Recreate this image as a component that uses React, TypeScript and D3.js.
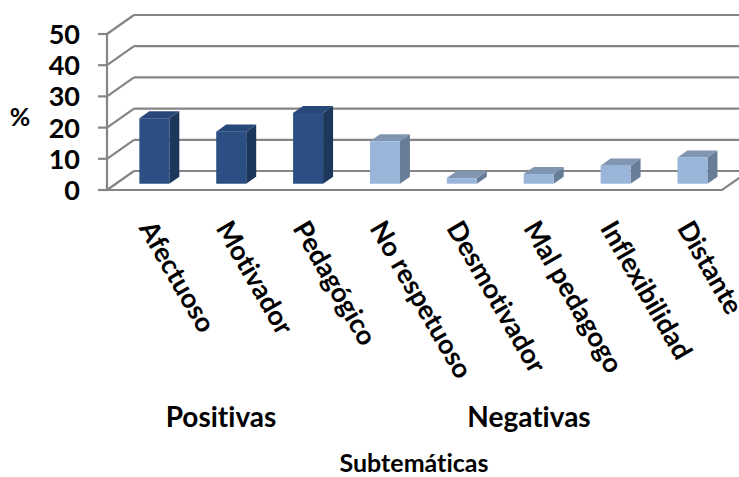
import React from "react";
import * as d3 from "d3";

const categories = [
  "Afectuoso",
  "Motivador",
  "Pedagógico",
  "No respetuoso",
  "Desmotivador",
  "Mal pedagogo",
  "Inflexibilidad",
  "Distante",
];
const values = [21, 16.7, 22.7, 13.6, 1.8, 3.1, 5.8, 8.4];
const groups = ["Positivas", "Positivas", "Positivas", "Negativas", "Negativas", "Negativas", "Negativas", "Negativas"];
const yTicks = [0, 10, 20, 30, 40, 50];
const groupLabels = ["Positivas", "Negativas"];

const W = 739;
const H = 477;
const FONT = "Lato, 'Open Sans', 'Liberation Sans', sans-serif";

const colors: Record<string, { front: string; side: string; top: string }> = {
  Positivas: { front: "#2B4F83", side: "#1D375C", top: "#274878" },
  Negativas: { front: "#9AB5DA", side: "#687D97", top: "#8095B1" },
};

export default function App() {
  const left = 107;
  const right = 722;
  const depth = { x: 27, y: -19 };
  const f0 = 0.33;
  const f1 = 0.7;

  const y = d3.scaleLinear().domain([0, 50]).range([190, 34]);
  const x = d3
    .scaleBand<string>()
    .domain(categories)
    .range([left, right])
    .paddingInner(0.61)
    .paddingOuter(0.305);
  const bw = x.bandwidth();
  const bd = { x: (f1 - f0) * depth.x, y: (f1 - f0) * depth.y };
  const grid = "#858585";

  const groupX = d3
    .scaleOrdinal<string, number>()
    .domain(groupLabels)
    .range([221, 529]);

  const txt = { fontVariantLigatures: "none", fontFeatureSettings: "'liga' 0, 'dlig' 0" } as React.CSSProperties;

  return (
    <svg
      width={W}
      height={H}
      style={{ position: "absolute", left: 0, top: 0, background: "#fff" }}
      fontFamily={FONT}
    >
      <rect width={W} height={H} fill="#fff" />
      {yTicks.map((t) => (
        <g key={t} stroke={grid} strokeWidth={2.2} fill="none">
          <line x1={left + depth.x} x2={W + 20} y1={y(t) + depth.y} y2={y(t) + depth.y} />
          <line x1={left} y1={y(t)} x2={left + depth.x} y2={y(t) + depth.y} />
          <line x1={left - 9} x2={left} y1={y(t)} y2={y(t)} />
        </g>
      ))}
      <line x1={left} x2={left} y1={y(50)} y2={y(0)} stroke={grid} strokeWidth={2.2} />
      <polyline
        points={`${left},${y(0)} ${right},${y(0)} ${right + depth.x},${y(0) + depth.y}`}
        stroke={grid}
        strokeWidth={2.2}
        fill="none"
      />
      {categories.map((c, i) => {
        const x0 = (x(c) as number) + f0 * depth.x;
        const x1 = x0 + bw;
        const yb = y(0) + f0 * depth.y;
        const yt = y(values[i]) + f0 * depth.y;
        const col = colors[groups[i]];
        return (
          <g key={c}>
            <polygon
              points={`${x1},${yt} ${x1 + bd.x},${yt + bd.y} ${x1 + bd.x},${yb + bd.y} ${x1},${yb}`}
              fill={col.side}
            />
            <polygon
              points={`${x0},${yt} ${x0 + bd.x},${yt + bd.y} ${x1 + bd.x},${yt + bd.y} ${x1},${yt}`}
              fill={col.top}
            />
            <rect x={x0} y={yt} width={bw} height={yb - yt} fill={col.front} />
          </g>
        );
      })}
      {yTicks.map((t) => (
        <text
          key={"l" + t}
          x={80}
          y={y(t) + 10}
          textAnchor="end"
          fontSize={27}
          fontWeight="bold"
          fill="#000"
          style={txt}
        >
          {t}
        </text>
      ))}
      <text x={20} y={126} textAnchor="middle" fontSize={25} fontWeight="bold" fill="#000" style={txt}>
        %
      </text>
      {categories.map((c) => {
        const lx = (x(c) as number) + f0 * depth.x - 1;
        const ly = 228;
        return (
          <text
            key={"c" + c}
            transform={`translate(${lx},${ly}) rotate(60)`}
            textAnchor="start"
            fontSize={27}
            fontWeight="bold"
            fill="#000"
            style={txt}
          >
            {c}
          </text>
        );
      })}
      {groupLabels.map((g) => (
        <text
          key={g}
          x={groupX(g)}
          y={427}
          textAnchor="middle"
          fontSize={28}
          fontWeight="bold"
          fill="#000"
          style={txt}
        >
          {g}
        </text>
      ))}
      <text x={414} y={472} textAnchor="middle" fontSize={25} fontWeight="bold" fill="#000" style={txt}>
        Subtemáticas
      </text>
    </svg>
  );
}
